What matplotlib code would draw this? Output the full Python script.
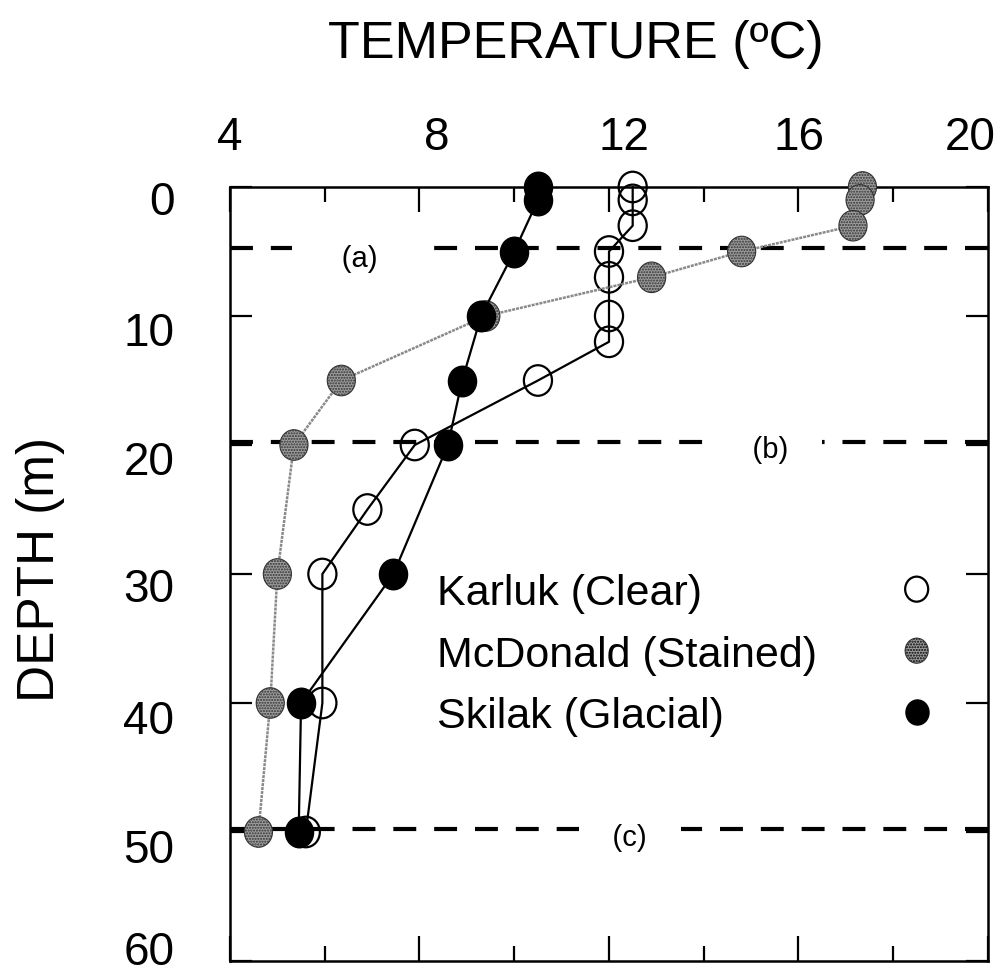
import matplotlib
matplotlib.use('Agg')
import matplotlib.pyplot as plt
from matplotlib.path import Path
from matplotlib.transforms import Affine2D, ScaledTranslation
from matplotlib.lines import Line2D

FONT = 'Liberation Sans'
plt.rcParams['font.family'] = [FONT, 'DejaVu Sans']

# ---------------- data ----------------
karluk_depth = [0, 1, 3, 5, 7, 10, 12, 15, 20, 25, 30, 40, 50]
karluk_temp = [12.5, 12.5, 12.5, 12.0, 12.0, 12.0, 12.0, 10.5, 7.9, 6.9, 5.95, 5.95, 5.6]

mcd_depth = [0, 1, 3, 5, 7, 10, 15, 20, 30, 40, 50]
mcd_temp = [17.35, 17.3, 17.15, 14.8, 12.9, 9.4, 6.35, 5.35, 5.0, 4.85, 4.6]

sk_depth = [0, 1, 5, 10, 15, 20, 30, 40, 50]
sk_temp = [10.5, 10.5, 10.0, 9.3, 8.9, 8.6, 7.45, 5.5, 5.45]

labels = ['Karluk (Clear)', 'McDonald (Stained)', 'Skilak (Glacial)']

ref_depths = [4.7, 19.8, 49.8]
ref_labels = ['(a)', '(b)', '(c)']
ref_label_temp = [6.74, 15.4, 12.44]
ref_label_depth = [5.5, 20.3, 50.4]
ref_label_pad = [6, 4, 4]

x_major = [4, 8, 12, 16, 20]
x_minor = [6, 10, 14, 18]
y_major = [0, 10, 20, 30, 40, 50, 60]

# small label shifts seen in the reference (pixels)
x_label_shift = [0, 17, 15, 1, -18]
y_label_shift = [-10, -12, -12, -10, -13, -13, 14]

# ---------------- figure ----------------
fig = plt.figure(figsize=(10.01, 9.78), dpi=100)
ax = fig.add_axes([0.22977, 0.01636, 0.75724, 0.79141])
ax.set_xlim(4, 20)
ax.set_ylim(60, 0)

ell = Path.unit_circle().transformed(Affine2D().scale(0.92, 1.0))
MS = 22

# reference dashed lines with labels
for d, t, lt, ld, p in zip(ref_depths, ref_labels, ref_label_temp, ref_label_depth, ref_label_pad):
    ax.axhline(d, color='black', lw=3, ls=(0, (5.5, 4.3)), zorder=1.5)
    pad = ' ' * p
    ax.text(lt, ld, pad + t + pad, ha='center', va='center', fontsize=21,
            bbox=dict(facecolor='white', edgecolor='none', boxstyle='square,pad=0.05'),
            zorder=1.6)

# Karluk
ax.plot(karluk_temp, karluk_depth, color='black', lw=1.6, zorder=3, clip_on=False)
sc_k = ax.scatter(karluk_temp, karluk_depth, s=MS ** 2, marker=ell, facecolors='none',
                  edgecolors='black', linewidths=1.6, zorder=3.1, clip_on=False)
# McDonald
ax.plot(mcd_temp, mcd_depth, color='#8a8a8a', lw=1.8, ls=(0, (1.2, 0.4)), zorder=4, clip_on=False)
sc_m = ax.scatter(mcd_temp, mcd_depth, s=MS ** 2, marker=ell, facecolors='#9c9c9c',
                  edgecolors='#333333', linewidths=0.8, hatch='......', zorder=4.1, clip_on=False)
# Skilak
ax.plot(sk_temp, sk_depth, color='black', lw=1.6, zorder=5, clip_on=False)
sc_s = ax.scatter(sk_temp, sk_depth, s=MS ** 2, marker=ell, facecolors='black',
                  edgecolors='black', linewidths=1.0, zorder=5.1, clip_on=False)

# ticks
ax.set_xticks(x_major)
ax.set_xticks(x_minor, minor=True)
ax.set_yticks(y_major)
ax.tick_params(axis='x', which='both', direction='in', top=True, bottom=True,
               labeltop=True, labelbottom=False)
ax.tick_params(axis='x', which='major', length=18, width=1.6, pad=20, labelsize=33)
ax.tick_params(axis='x', which='minor', length=11, width=1.6)
ax.tick_params(axis='y', which='major', direction='in', left=True, right=True,
               length=16, width=1.6, pad=40, labelsize=33)
fig.canvas.draw()
for tick, dx in zip(ax.xaxis.get_major_ticks(), x_label_shift):
    lab = tick.label2
    lab.set_transform(lab.get_transform() + ScaledTranslation(dx / 100, 0, fig.dpi_scale_trans))
for tick, dy in zip(ax.yaxis.get_major_ticks(), y_label_shift):
    lab = tick.label1
    lab.set_transform(lab.get_transform() + ScaledTranslation(0, dy / 100, fig.dpi_scale_trans))
for s in ax.spines.values():
    s.set_linewidth(1.8)

# titles
fig.text(0.5754, 0.955, 'TEMPERATURE (ºC)', fontsize=37.5, ha='center', va='center')
fig.text(0.040, 1 - 570 / 978, 'DEPTH (m)', rotation=90, fontsize=37,
         ha='center', va='center')

# legend: text column and marker column
LFS = 31
LSP = 0.5
blank = [Line2D([], [], linestyle='none', marker='none') for _ in labels]
legA = ax.legend(blank, labels, loc='upper left', bbox_to_anchor=(0.2731, 0.501),
                 frameon=False, handlelength=0, handletextpad=0, borderpad=0,
                 borderaxespad=0, labelspacing=LSP, prop=dict(size=LFS))
ax.add_artist(legA)
legB = ax.legend([sc_k, sc_m, sc_s], [' '] * 3, loc='upper left', bbox_to_anchor=(0.8775, 0.501),
                 frameon=False, handlelength=1.0, handletextpad=0, borderpad=0,
                 borderaxespad=0, labelspacing=LSP, prop=dict(size=LFS),
                 scatterpoints=1, scatteryoffsets=[0.5], markerscale=0.82)

fig.savefig('out.png', dpi=100)
